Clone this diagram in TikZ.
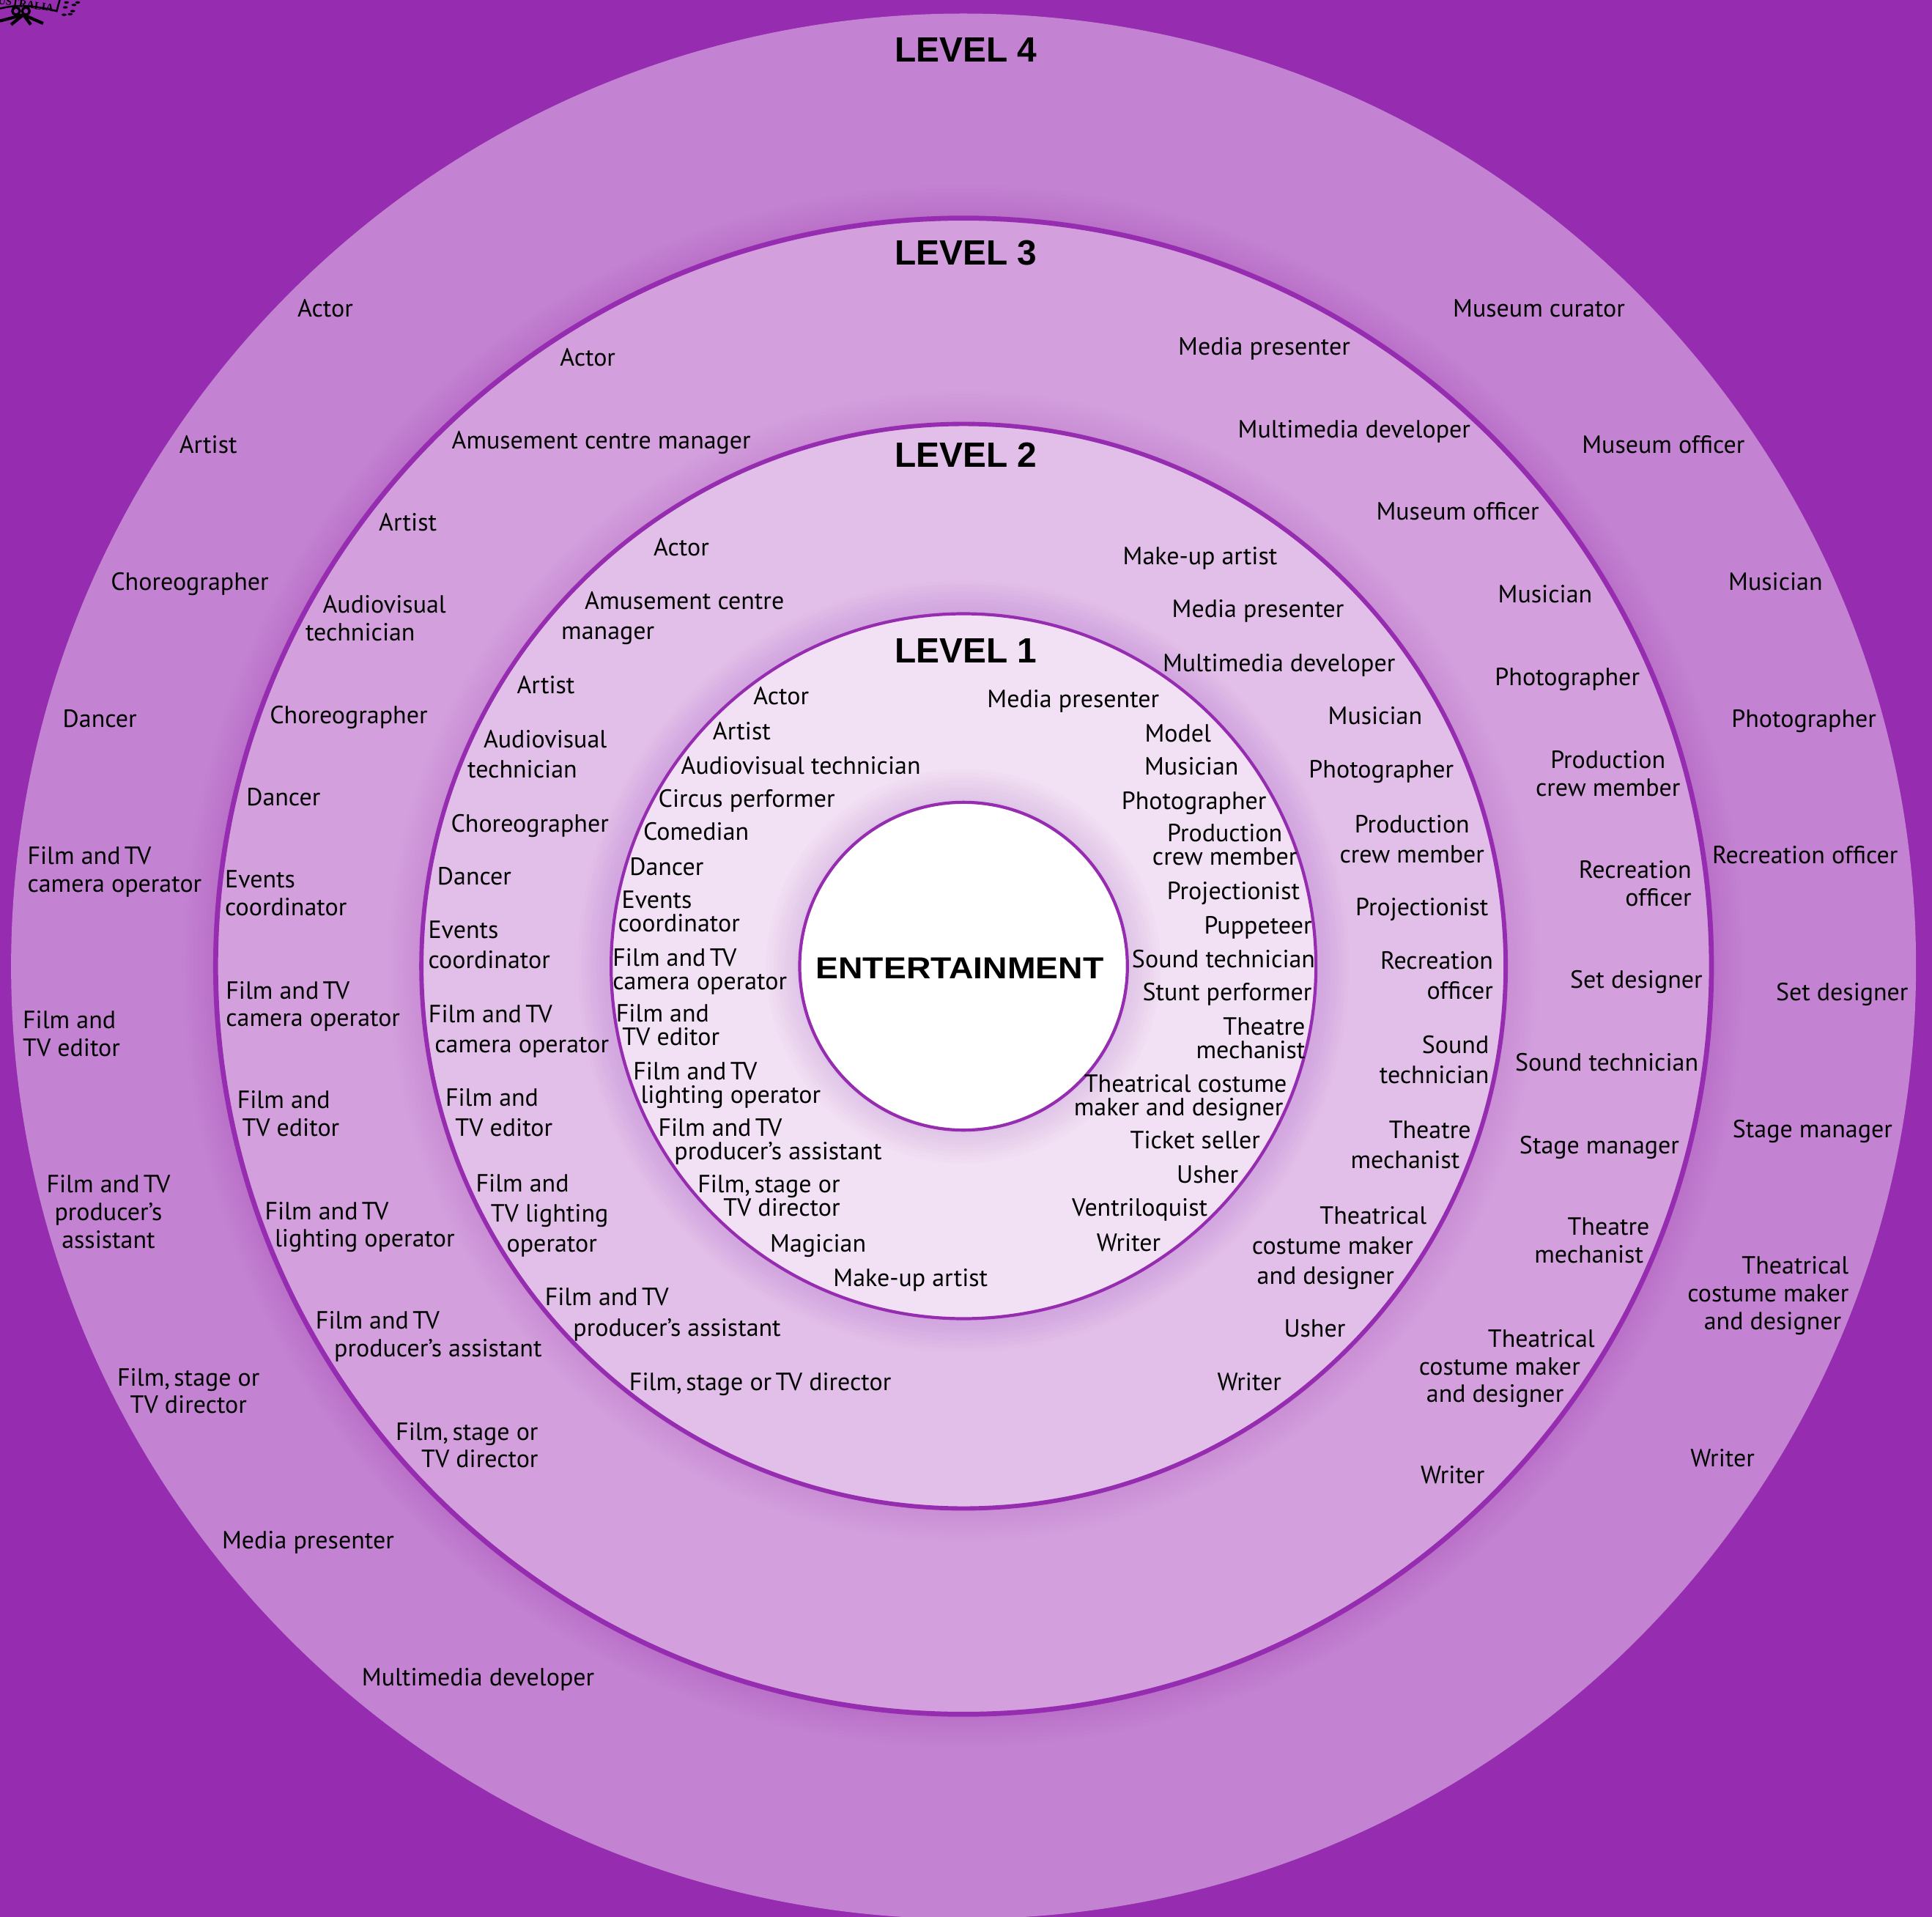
\documentclass[tikz,border=0pt]{standalone}
\usepackage{fontspec}
\setmainfont{PT Sans}
\newfontfamily\headfont{Liberation Sans}[BoldFont={Liberation Sans Bold}]
\newfontfamily\widefont{Liberation Sans Bold}[FakeStretch=1.12]
\newfontfamily\crestfont{Liberation Serif Bold}
\definecolor{deeppurple}{HTML}{962CAF}
\definecolor{levelfour}{HTML}{C383D2}
\definecolor{levelthree}{HTML}{D3A0DD}
\definecolor{leveltwo}{HTML}{E2BFE8}
\definecolor{levelone}{HTML}{F2E0F5}
\newcommand{\filmtv}{Film and\kern0.16em T\kern-0.05em V}
\newcommand{\filmstage}{Film,\kern0.16em stage or}

\begin{document}
\begin{tikzpicture}[x=0.02cm, y=-0.02cm,
        job/.style={anchor=base, align=center, inner sep=0pt, text=black, font=\fontsize{11.5}{12.8}\selectfont},
        jobwide/.style={job, font=\fontsize{11.5}{13.9}\selectfont},
        jobtight/.style={job, font=\fontsize{11.5}{10.8}\selectfont},
        levelhead/.style={anchor=base, inner sep=0pt, font=\headfont\bfseries\fontsize{16.2}{17}\selectfont}]
        \useasboundingbox (0, 0) rectangle (1568, 1555.5);
        \fill [deeppurple] (0, 0) rectangle (1568, 1555.5);
        \fill [levelfour] (782, 784) circle (773);

        % rings, with a soft shadow outside each
        \foreach \rad/\col/\wid in {607/levelthree/0.08cm, 440/leveltwo/0.07cm, 286/levelone/0.05cm, 133/white/0.05cm} {
            \foreach \g in {3, 6, ..., 27}
                \fill [deeppurple, fill opacity=0.016] (782, 784) circle (\rad+\g);
            \draw [deeppurple, fill=\col, line width=\wid] (782, 784) circle (\rad);
        }

        % bit of the crest in the corner
        \draw [line width=0.03cm] (0, 7) .. controls (15, 3) and (30, 5) .. (46, 9) -- (48.5, 0);
        \node (crest) at (21, 3.5) [rotate=-8, inner sep=0pt, font=\crestfont\fontsize{5}{5}\selectfont] {USTRALIA};
        \draw [line width=0.04cm] (13, 9) circle (3) (21, 9) circle (3);
        \draw [line width=0.05cm] (19, 12) -- (9, 20) (19, 12) -- (25, 20) (19, 12) -- (0, 17) (19, 12) -- (35, 19);
        \foreach \lx/\ly in {52/12, 59/9, 57/11.5, 53/6, 54/2, 63/2, 60/4}
            \fill (\lx, \ly) ellipse (2 and 1);

        \node (lv4) at (784, 50) [levelhead] {LEVEL 4};
        \node (lv3) at (784, 215) [levelhead] {LEVEL 3};
        \node (lv2) at (784, 379) [levelhead] {LEVEL 2};
        \node (lv1) at (784, 538) [levelhead] {LEVEL 1};
        \node (centre) at (779, 794) [anchor=base, inner sep=0pt, font=\widefont\fontsize{14}{15}\selectfont] {ENTERTAINMENT};

        % level 4
        \node (a1) at (264, 257) [job] {Actor};
        \node (a2) at (169, 368) [job] {Artist};
        \node (a3) at (154, 479) [job] {Choreographer};
        \node (a4) at (81, 590) [job] {Dancer};
        \node (a5) at (93, 724) [job, align=left] {\filmtv\\camera operator};
        \node (a6) at (58, 857) [job, align=left] {Film and\\TV editor};
        \node (a7) at (88, 1013) [job] {\filmtv\\producer’s\\assistant};
        \node (a8) at (153, 1147) [job] {\filmstage\\TV director};
        \node (a9) at (250, 1257) [job] {Media presenter};
        \node (a10) at (388, 1368) [job] {Multimedia developer};
        \node (a11) at (1249, 257) [job] {Museum curator};
        \node (a12) at (1350, 368) [job] {Museum officer};
        \node (a13) at (1441, 479) [job] {Musician};
        \node (a14) at (1464, 590) [job] {Photographer};
        \node (a15) at (1465, 701) [job] {Recreation officer};
        \node (a16) at (1495, 812) [job] {Set designer};
        \node (a17) at (1471, 923) [job] {Stage manager};
        \node (a18) at (1435, 1079) [job, align=right] {Theatrical\\costume maker\\and designer\hspace*{0.12cm}};
        \node (a19) at (1398, 1190) [job] {Writer};

        % level 3
        \node (b1) at (477, 297) [job] {Actor};
        \node (b2) at (488, 364) [job] {Amusement centre manager};
        \node (b3) at (331, 431) [job] {Artist};
        \node (b4) at (305, 520) [job, align=left] {\hspace*{0.28cm}Audiovisual\\technician};
        \node (b5) at (283, 587) [job] {Choreographer};
        \node (b6) at (230, 654) [job] {Dancer};
        \node (b7) at (232, 743) [job, align=left] {Events\\coordinator};
        \node (b8) at (254, 833) [job, align=left] {\filmtv\\camera operator};
        \node (b9) at (234, 922) [job, align=left] {Film and\\\hspace*{0.08cm}TV editor};
        \node (b10) at (292, 1012) [job, align=left] {\filmtv\\\hspace*{0.16cm}lighting operator};
        \node (b11) at (348, 1101) [job, align=left] {\filmtv\\\hspace*{0.3cm}producer’s assistant};
        \node (b12) at (379, 1191) [job, align=right] {\filmstage\\TV director};
        \node (b13) at (1026, 288) [job] {Media presenter};
        \node (b14) at (1099, 355) [job] {Multimedia developer};
        \node (b15) at (1183, 422) [job] {Museum officer};
        \node (b16) at (1254, 489) [job] {Musician};
        \node (b17) at (1272, 556) [job] {Photographer};
        \node (b18) at (1305, 646) [job] {Production\\crew member};
        \node (b19) at (1327, 735) [job, align=right] {Recreation\\officer};
        \node (b20) at (1328, 802) [job] {Set designer};
        \node (b21) at (1304, 869) [job] {Sound technician};
        \node (b22) at (1298, 936) [job] {Stage manager};
        \node (b23) at (1292, 1025) [job, align=right] {Theatre\\mechanist\hspace*{0.1cm}};
        \node (b24) at (1223, 1138) [job, align=left] {\hspace*{1.12cm}Theatrical\\costume maker\\\hspace*{0.12cm}and designer};
        \node (b25) at (1179, 1204) [job] {Writer};

        % level 2
        \node (c1) at (553, 451) [jobwide] {Actor};
        \node (c2) at (546, 519) [jobwide, align=left] {\hspace*{0.38cm}Amusement centre\\manager};
        \node (c3) at (443, 563) [jobwide] {Artist};
        \node (c4) at (436, 631) [jobwide, align=left] {\hspace*{0.26cm}Audiovisual\\technician};
        \node (c5) at (430, 675) [jobwide] {Choreographer};
        \node (c6) at (385, 718) [jobwide] {Dancer};
        \node (c7) at (397, 786) [jobwide, align=left] {Events\\coordinator};
        \node (c8) at (421, 854) [jobwide, align=left] {\filmtv\\\hspace*{0.1cm}camera operator};
        \node (c9) at (405, 922) [jobwide, align=left] {Film and\\\hspace*{0.16cm}TV editor};
        \node (c10) at (440, 1016) [jobwide, align=left] {Film and\\\hspace*{0.24cm}TV lighting\\\hspace*{0.5cm}operator};
        \node (c11) at (538, 1084) [jobwide, align=left] {\filmtv\\\hspace*{0.46cm}producer’s assistant};
        \node (c12) at (617, 1128) [jobwide] {\filmstage\kern0.16em T\kern-0.05em V director};
        \node (c13) at (974, 458) [jobwide] {Make-up artist};
        \node (c14) at (1021, 501) [jobwide] {Media presenter};
        \node (c15) at (1038, 545) [jobwide] {Multimedia developer};
        \node (c16) at (1116, 588) [jobwide] {Musician};
        \node (c17) at (1121, 631) [jobwide] {Photographer};
        \node (c18) at (1146, 700) [jobwide] {Production\\crew member};
        \node (c19) at (1154, 743) [jobwide] {Projectionist};
        \node (c20) at (1166, 811) [jobwide, align=right] {Recreation\\officer};
        \node (c21) at (1164, 879) [jobwide, align=right] {Sound\\technician};
        \node (c22) at (1145, 948) [jobwide, align=left] {\hspace*{0.62cm}Theatre\\mechanist};
        \node (c23) at (1087, 1042) [jobwide, align=left] {\hspace*{1.1cm}Theatrical\\costume maker\\\hspace*{0.08cm}and designer};
        \node (c24) at (1067, 1085) [jobwide] {Usher};
        \node (c25) at (1014, 1128) [jobwide] {Writer};

        % level 1
        \node (d1) at (634, 572) [jobtight] {Actor};
        \node (d2) at (602, 600) [jobtight] {Artist};
        \node (d3) at (650, 628) [jobtight] {Audiovisual technician};
        \node (d4) at (606, 655) [jobtight] {Circus performer};
        \node (d5) at (565, 682) [jobtight] {Comedian};
        \node (d6) at (541, 710) [jobtight] {Dancer};
        \node (d7) at (551, 756) [jobtight, align=left] {\hspace*{0.06cm}Events\\coordinator};
        \node (d8) at (568, 803) [jobtight, align=left] {\filmtv\\camera operator};
        \node (d9) at (542, 848) [jobtight, align=left] {Film and\\\hspace*{0.1cm}TV editor};
        \node (d10) at (590, 895) [jobtight, align=left] {\filmtv\\\hspace*{0.12cm}lighting operator};
        \node (d11) at (625, 941) [jobtight, align=left] {\filmtv\\\hspace*{0.26cm}producer’s assistant};
        \node (d12) at (624, 987) [jobtight, align=right] {\filmstage\\TV director};
        \node (d13) at (664, 1016) [jobtight] {Magician};
        \node (d14) at (739, 1044) [jobtight] {Make-up artist};
        \node (d15) at (871, 574) [jobtight] {Media presenter};
        \node (d16) at (956, 602) [jobtight] {Model};
        \node (d17) at (967, 629) [jobtight] {Musician};
        \node (d18) at (969, 657) [jobtight] {Photographer};
        \node (d19) at (994, 702) [jobtight] {Production\\crew member};
        \node (d20) at (1001, 730) [jobtight] {Projectionist};
        \node (d21) at (1021, 758) [jobtight] {Puppeteer};
        \node (d22) at (993, 785) [jobtight] {Sound technician};
        \node (d23) at (996, 812) [jobtight] {Stunt performer};
        \node (d24) at (1015, 859) [jobtight, align=right] {Theatre\\mechanist};
        \node (d25) at (958, 905) [jobtight, align=right] {Theatrical costume\\maker and designer\hspace*{0.06cm}};
        \node (d26) at (970, 932) [jobtight] {Ticket seller};
        \node (d27) at (980, 960) [jobtight] {Usher};
        \node (d28) at (925, 987) [jobtight] {Ventriloquist};
        \node (d29) at (916, 1015) [jobtight] {Writer};
\end{tikzpicture}
\end{document}
